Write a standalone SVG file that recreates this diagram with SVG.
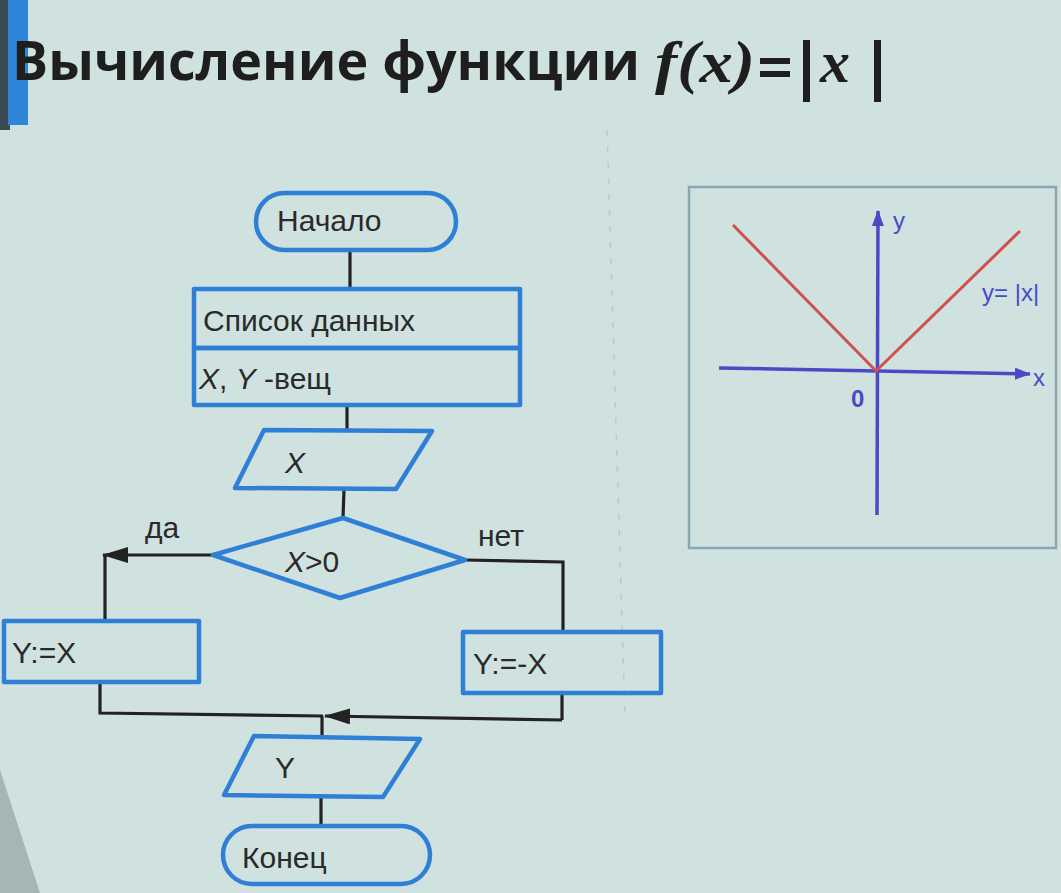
<svg xmlns="http://www.w3.org/2000/svg" width="1061" height="893" viewBox="0 0 1061 893">
<defs>
<style>
.nd{fill:none;stroke:#2f7fd6;stroke-width:4.5;stroke-linejoin:round}
.cn{fill:none;stroke:#222;stroke-width:3.2}
.t{font-family:"Liberation Sans",Arial,sans-serif;font-size:30px;fill:#2a2a2a}
.ax{stroke:#4a4ac8;stroke-width:3.5;fill:none}
.rd{stroke:#d0504f;stroke-width:3;fill:none}
.gt{font-family:"Liberation Sans",Arial,sans-serif;font-size:24px;fill:#4a4ac8}
</style>
<marker id="ah" markerWidth="26" markerHeight="16" refX="25" refY="8" orient="auto" markerUnits="userSpaceOnUse" viewBox="0 0 26 16">
<path d="M0,0 L26,8 L0,16 z" fill="#222"/>
</marker>
<marker id="ab" markerWidth="16" markerHeight="12" refX="15" refY="6" orient="auto" markerUnits="userSpaceOnUse" viewBox="0 0 16 12">
<path d="M0,0 L16,6 L0,12 z" fill="#4a4ac8"/>
</marker>
</defs>
<rect width="1061" height="893" fill="#cfe2df"/>
<rect x="0" y="0" width="10" height="130" fill="#3a4a55"/>
<rect x="8" y="0" width="20" height="125" fill="#2f86d8"/>
<path d="M0,770 L40,893 L0,893 z" fill="#8a9a9a" opacity="0.6"/>
<line x1="607" y1="130" x2="625" y2="720" stroke="#b8cccc" stroke-width="1.5" stroke-dasharray="6,10"/>

<g id="title">
<text x="12" y="80" font-family="'Open Sans','Noto Sans',sans-serif" font-weight="bold" font-size="54" fill="#1e1e1e" textLength="628" lengthAdjust="spacingAndGlyphs">Вычисление функции</text>
<text x="655" y="82" font-family="'Liberation Serif',serif" font-style="italic" font-weight="bold" font-size="60" fill="#1e1e1e" textLength="100" lengthAdjust="spacingAndGlyphs">f(x)</text>
<rect x="760" y="58" width="30" height="6" fill="#1e1e1e"/>
<rect x="760" y="71" width="30" height="6" fill="#1e1e1e"/>
<rect x="803" y="40" width="7" height="62" fill="#1e1e1e"/>
<text x="820" y="82" font-family="'Liberation Serif',serif" font-style="italic" font-weight="bold" font-size="60" fill="#1e1e1e">x</text>
<rect x="874" y="40" width="7" height="62" fill="#1e1e1e"/>
</g>

<g id="connectors">
<line class="cn" x1="350" y1="250" x2="350" y2="288"/>
<line class="cn" x1="347" y1="405" x2="347" y2="430"/>
<line class="cn" x1="344" y1="490" x2="343" y2="518"/>
<line class="cn" x1="105" y1="555" x2="105" y2="622"/>
<line class="cn" x1="213" y1="555" x2="103" y2="555" marker-end="url(#ah)"/>
<polyline class="cn" points="465,560 563,562 563,632"/>
<polyline class="cn" points="100,683 100,713 323,716"/>
<line class="cn" x1="562" y1="693" x2="562" y2="720"/>
<line class="cn" x1="562" y1="720" x2="325" y2="716" marker-end="url(#ah)"/>
<line class="cn" x1="322" y1="716" x2="322" y2="736"/>
<line class="cn" x1="321" y1="797" x2="321" y2="826"/>
<text class="t" x="145" y="538" font-size="25">да</text>
<text class="t" x="478" y="546" font-size="25">нет</text>
</g>

<g id="start">
<rect class="nd" x="256" y="193" width="200" height="57" rx="28.5"/>
<text class="t" x="277" y="231">Начало</text>
</g>

<g id="data">
<rect class="nd" x="194" y="289" width="326" height="59"/>
<rect class="nd" x="194" y="348" width="326" height="57"/>
<text class="t" x="203" y="331">Список данных</text>
<text class="t" x="199" y="389"><tspan font-style="italic">X</tspan>, <tspan font-style="italic">Y</tspan> -вещ</text>
</g>

<g id="inputX">
<polygon class="nd" points="264,430 432,431 396,489 235,488"/>
<text class="t" x="285" y="473" font-style="italic">X</text>
</g>

<g id="cond">
<polygon class="nd" points="343,518 465,560 340,598 213,555"/>
<text class="t" x="285" y="572"><tspan font-style="italic">X</tspan>&gt;0</text>
</g>

<g id="yes">
<rect class="nd" x="4" y="621" width="195" height="61"/>
<text class="t" x="12" y="663" font-size="32">Y:=X</text>
</g>

<g id="no">
<rect class="nd" x="463" y="632" width="198" height="61"/>
<text class="t" x="473" y="674" font-size="32">Y:=-X</text>
</g>

<g id="outputY">
<polygon class="nd" points="254,736 420,739 383,797 224,795"/>
<text class="t" x="275" y="778">Y</text>
</g>

<g id="end">
<rect class="nd" x="223" y="826" width="207" height="58" rx="29"/>
<text class="t" x="242" y="868" font-size="31">Конец</text>
</g>

<g id="graph">
<rect x="689" y="187" width="367" height="361" fill="none" stroke="#8aa6b0" stroke-width="2.5"/>
<line class="ax" x1="719" y1="368" x2="1030" y2="374" marker-end="url(#ab)"/>
<line class="ax" x1="877" y1="515" x2="878" y2="211" marker-end="url(#ab)"/>
<polyline class="rd" points="733,225 876,371 1020,231"/>
<text class="gt" x="893" y="229">y</text>
<text class="gt" x="1033" y="386">x</text>
<text class="gt" x="851" y="407" font-weight="bold" font-size="21">0</text>
<text class="gt" x="982" y="301" font-size="22">y= |x|</text>
</g>
</svg>
